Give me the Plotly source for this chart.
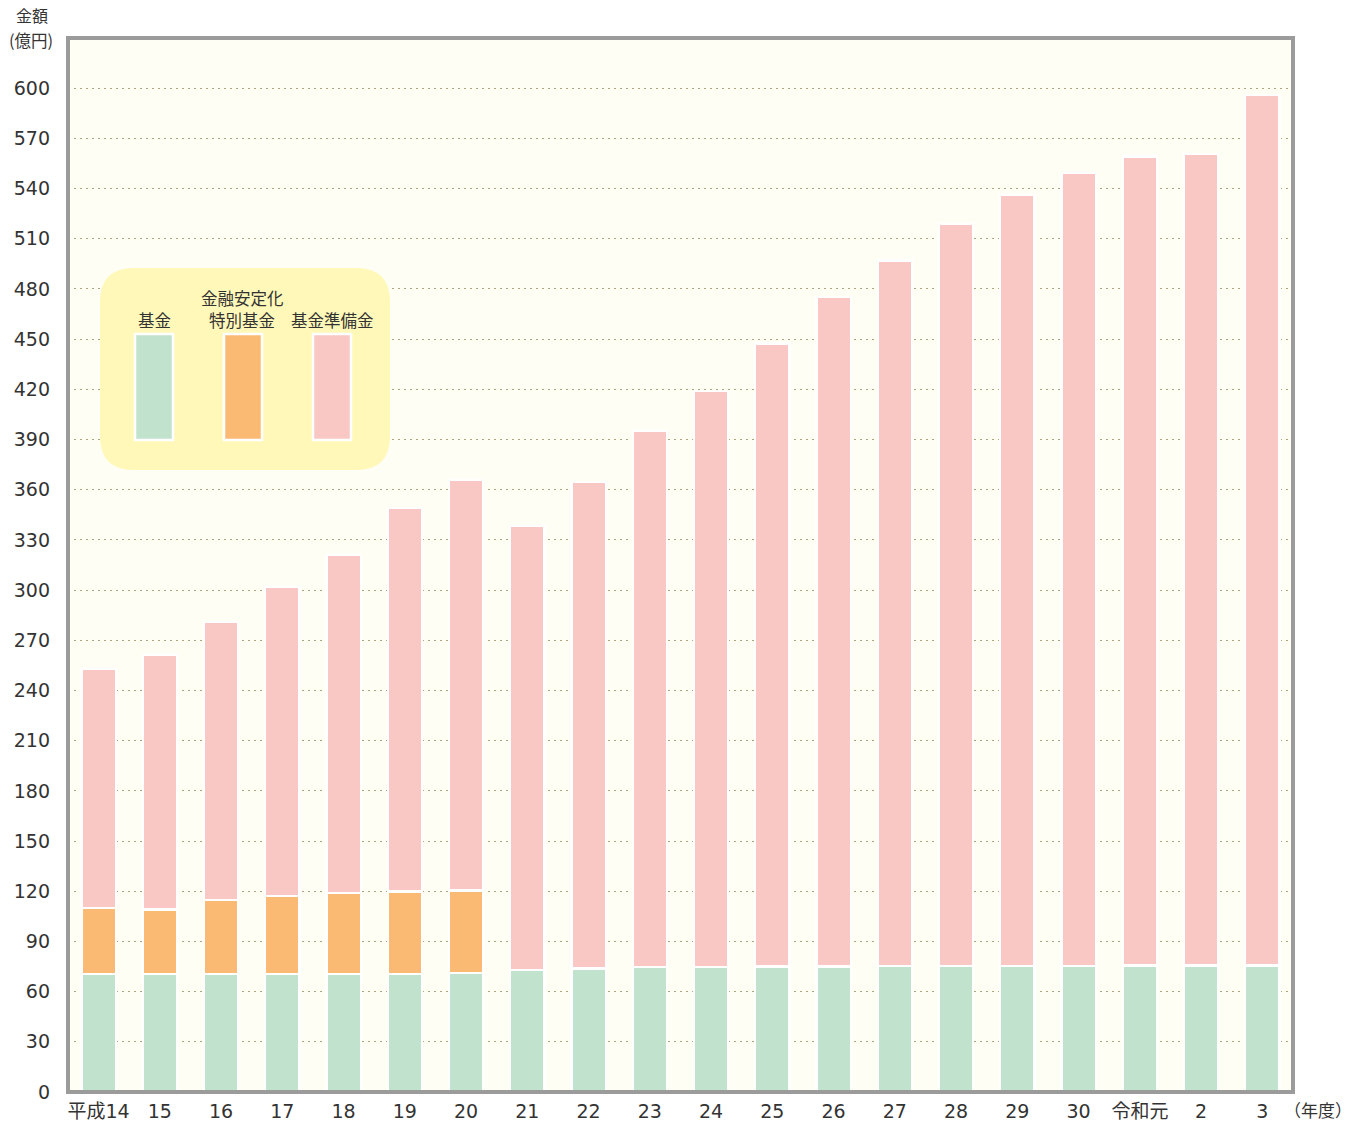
import plotly.graph_objects as go

# Fiscal years (Heisei 14 .. Reiwa 3)
years = ["平成14", "15", "16", "17", "18", "19", "20", "21", "22", "23",
         "24", "25", "26", "27", "28", "29", "30", "令和元", "2", "3"]

# Amounts in 100 million yen
fund = [70.4, 70.4, 70.4, 70.4, 70.4, 70.4, 71.2, 72.7, 73.8, 74.5,
        74.9, 75.0, 75.0, 75.2, 75.2, 75.2, 75.4, 75.6, 75.6, 75.6]
special_fund = [39.5, 38.7, 44.2, 46.6, 48.5, 49.4, 49.3, None, None, None,
                None, None, None, None, None, None, None, None, None, None]
reserve = [142.8, 152.0, 166.1, 185.0, 202.3, 229.5, 245.5, 265.8, 290.8, 320.7,
           343.9, 372.4, 400.0, 421.8, 443.8, 460.8, 474.0, 483.6, 485.0, 520.4]

series_names = ["基金", "金融安定化特別基金", "基金準備金"]
colors = ["#C1E2CC", "#FBBA74", "#F9C8C4"]

y_ticks = list(range(0, 601, 30))

FONT = "DejaVu Sans, Noto Sans CJK JP, sans-serif"
CJK = "Noto Sans CJK JP, sans-serif"
TEXT = "#333333"

W, H = 1367, 1121
ML, MR, MT, MB = 68, 74, 38, 29
PW, PH = W - ML - MR, H - MT - MB


def px(x):
    return (x - ML) / PW


def py(y):
    return (H - MB - y) / PH


fig = go.Figure()
for name, vals, col in zip(series_names, [fund, special_fund, reserve], colors):
    fig.add_trace(go.Bar(
        x=years, y=vals, name=name,
        marker=dict(color=col, line=dict(color="white", width=2.2)),
        showlegend=False,
    ))

shapes = []

# Rounded legend panel
x0, x1, y0, y1, r = 100, 390, 268, 470, 34
path = (f"M {px(x0 + r)} {py(y0)} L {px(x1 - r)} {py(y0)} "
        f"Q {px(x1)} {py(y0)} {px(x1)} {py(y0 + r)} "
        f"L {px(x1)} {py(y1 - r)} Q {px(x1)} {py(y1)} {px(x1 - r)} {py(y1)} "
        f"L {px(x0 + r)} {py(y1)} Q {px(x0)} {py(y1)} {px(x0)} {py(y1 - r)} "
        f"L {px(x0)} {py(y0 + r)} Q {px(x0)} {py(y0)} {px(x0 + r)} {py(y0)} Z")
shapes.append(dict(type="path", path=path, xref="paper", yref="paper",
                   fillcolor="#FFF8B8", line=dict(width=0), layer="above"))

swatch_x = [154, 243, 332]
for cx, col in zip(swatch_x, colors):
    shapes.append(dict(type="rect", xref="paper", yref="paper",
                       x0=px(cx - 19), x1=px(cx + 19), y0=py(440), y1=py(334),
                       fillcolor=col, line=dict(color="white", width=2.5),
                       layer="above"))

# Plot frame
shapes.append(dict(type="rect", xref="paper", yref="paper", x0=0, x1=1, y0=0, y1=1,
                   line=dict(color="#9B9B9B", width=4), fillcolor="rgba(0,0,0,0)",
                   layer="above"))

annotations = []
legend_labels = [("基金", 154, 320), ("金融安定化", 242, 298),
                 ("特別基金", 242, 320), ("基金準備金", 332, 320)]
for txt, x, y in legend_labels:
    annotations.append(dict(text=txt, x=px(x), y=py(y), xref="paper", yref="paper",
                            showarrow=False, xanchor="center", yanchor="middle",
                            font=dict(family=CJK, size=16.5, color=TEXT)))

# Value-axis title
annotations.append(dict(text="金額", x=px(32), y=py(15), xref="paper", yref="paper",
                        showarrow=False, xanchor="center", yanchor="middle",
                        font=dict(family=CJK, size=16, color=TEXT)))
annotations.append(dict(text="(億円)", x=px(31), y=py(40), xref="paper", yref="paper",
                        showarrow=False, xanchor="center", yanchor="middle",
                        font=dict(family=CJK, size=16.5, color=TEXT)))
annotations.append(dict(text="（年度）", x=px(1318), y=py(1109), xref="paper", yref="paper",
                        showarrow=False, xanchor="center", yanchor="middle",
                        font=dict(family=CJK, size=17, color=TEXT)))

fig.update_layout(
    width=W, height=H, autosize=False,
    margin=dict(l=ML, r=MR, t=MT, b=MB, pad=0),
    paper_bgcolor="white",
    plot_bgcolor="#FFFEF4",
    barmode="stack",
    bargap=0.44,
    shapes=shapes,
    annotations=annotations,
    font=dict(family=FONT, color=TEXT),
)
fig.update_xaxes(
    type="category", range=[-0.5, 19.5], showgrid=False, zeroline=False,
    showline=False, ticks="", ticklabelstandoff=6, automargin=False,
    tickfont=dict(family=FONT, size=19, color=TEXT),
)
fig.update_yaxes(
    range=[0, 630], tickvals=y_ticks, ticktext=[str(v) for v in y_ticks],
    showgrid=True, gridcolor="#ADA57F", gridwidth=1.3, griddash="2px,4px",
    zeroline=False, showline=False, ticks="", ticklabelstandoff=17, automargin=False,
    tickfont=dict(family=FONT, size=19, color=TEXT),
)

fig.write_html("out.html")
